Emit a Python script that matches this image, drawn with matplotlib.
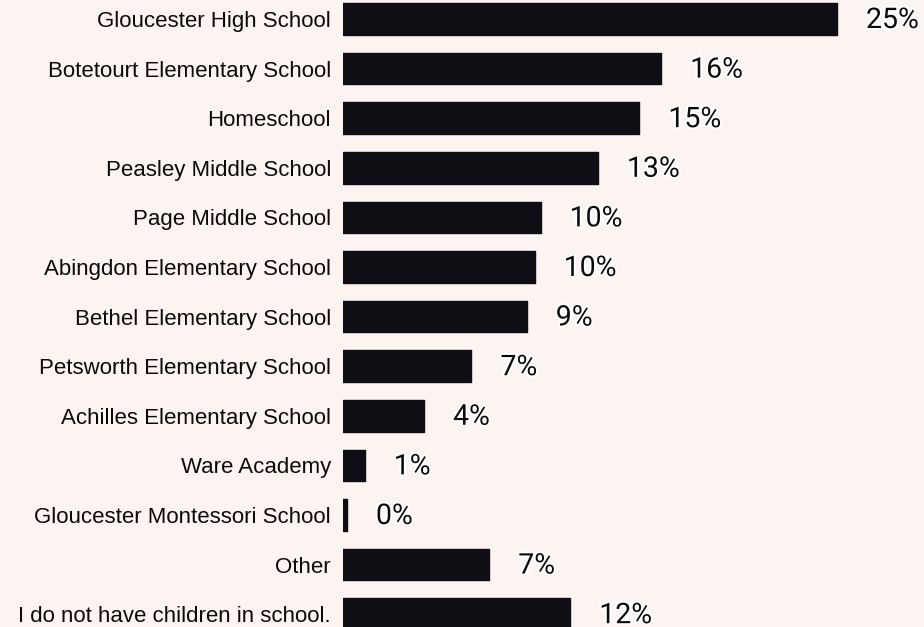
import matplotlib
matplotlib.use("Agg")
import matplotlib.pyplot as plt
import matplotlib.patheffects as pe
import numpy as np

categories = [
    "Gloucester High School",
    "Botetourt Elementary School",
    "Homeschool",
    "Peasley Middle School",
    "Page Middle School",
    "Abingdon Elementary School",
    "Bethel Elementary School",
    "Petsworth Elementary School",
    "Achilles Elementary School",
    "Ware Academy",
    "Gloucester Montessori School",
    "Other",
    "I do not have children in school.",
]
values = [25.0, 16.1, 15.0, 12.9, 10.0, 9.7, 9.3, 6.5, 4.1, 1.1, 0.2, 7.4, 11.5]
value_labels = ["25%", "16%", "15%", "13%", "10%", "10%", "9%", "7%", "4%", "1%", "0%", "7%", "12%"]

bg = "#fcf4f1"
bar_color = "#0f0e14"

W, H, DPI = 924, 627, 100
fig = plt.figure(figsize=(W / DPI, H / DPI), dpi=DPI, facecolor=bg)
left_px = 343
ax = fig.add_axes([left_px / W, 0, 1 - left_px / W, 1])
ax.set_facecolor(bg)

y = np.arange(len(categories))
px_per_unit = 19.76
ax.set_xlim(0, (W - left_px) / px_per_unit)
row_px = 49.6
top_center = 19
ax.set_ylim((H - top_center) / row_px, -top_center / row_px)

ax.barh(y, values, height=0.64, color=bar_color, edgecolor=bar_color,
        linewidth=1.0, joinstyle="round")

offset = 29 / px_per_unit
for yi, v, lab in zip(y, values, value_labels):
    ax.text(v + offset, yi + 0.03, lab, va="center", ha="left", fontsize=20.5,
            family="Roboto", color="#0a0a0a",
            path_effects=[pe.withStroke(linewidth=3, foreground="white")])

for spine in ax.spines.values():
    spine.set_visible(False)
ax.set_xticks([])
ax.set_yticks(y)
ax.set_yticklabels(categories, fontsize=16, family="Liberation Sans", color="#0a0a0a")
ax.tick_params(axis="y", length=0, pad=8.6)

fig.savefig("out.png", dpi=DPI, facecolor=bg)
